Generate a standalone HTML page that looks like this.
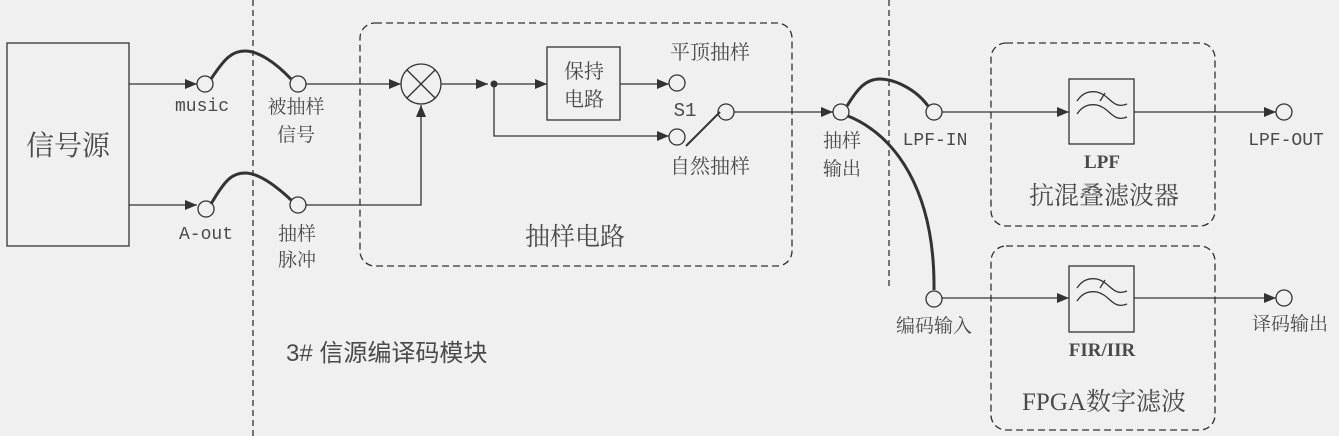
<!DOCTYPE html>
<html><head><meta charset="utf-8"><style>
html,body{margin:0;padding:0;background:#f0f0f0;}
svg{display:block;}
text{fill:#4a4a4a;}
.cjk{font-family:"Liberation Serif","Noto Serif CJK SC",serif;}
.mono{font-family:"Liberation Mono",monospace;}
</style></head><body>
<svg width="1339" height="436" viewBox="0 0 1339 436" xmlns="http://www.w3.org/2000/svg">
<defs>
<marker id="a" markerWidth="12" markerHeight="10" refX="12" refY="5" orient="auto" markerUnits="userSpaceOnUse">
<path d="M0,0 L12,5 L0,10 z" fill="#333"/></marker>
</defs>
<g stroke="#333" fill="none" stroke-width="1.3">
<line x1="253" y1="0" x2="253" y2="436" stroke-dasharray="6,4"/>
<line x1="889" y1="0" x2="889" y2="288" stroke-dasharray="6,4"/>
<rect x="360" y="23" width="432" height="243" rx="15" stroke-dasharray="7,4"/>
<rect x="991" y="43" width="224" height="183" rx="15" stroke-dasharray="7,4"/>
<rect x="991" y="246" width="224" height="184" rx="15" stroke-dasharray="7,4"/>
<rect x="7" y="43" width="122" height="203"/>
<line x1="129" y1="84" x2="197" y2="84" marker-end="url(#a)"/>
<line x1="129" y1="205" x2="197" y2="205" marker-end="url(#a)"/>
<circle cx="205" cy="84" r="8"/>
<circle cx="206" cy="209" r="8"/>
<circle cx="298" cy="84" r="8"/>
<circle cx="298" cy="205" r="8"/>
<path d="M211,79 C225,58 232,51 245,51 C258,51 275,62 291,79" stroke-width="3"/>
<path d="M211,204 C225,180 232,173 245,173 C258,173 275,185 291,200" stroke-width="3"/>
<line x1="306" y1="84" x2="401" y2="84" marker-end="url(#a)"/>
<polyline points="306,205 421,205 421,105" marker-end="url(#a)"/>
<circle cx="421" cy="84" r="20"/>
<line x1="407" y1="70" x2="435" y2="98"/><line x1="435" y1="70" x2="407" y2="98"/>
<line x1="441" y1="84" x2="488" y2="84" marker-end="url(#a)"/>
<line x1="494" y1="84" x2="547" y2="84" marker-end="url(#a)"/>
<rect x="547" y="47" width="73" height="73"/>
<line x1="620" y1="84" x2="669" y2="84" marker-end="url(#a)"/>
<polyline points="494,84 494,136 669,136" marker-end="url(#a)"/>
<circle cx="677" cy="83" r="8"/>
<circle cx="677" cy="137" r="8"/>
<circle cx="726" cy="112" r="8"/>
<line x1="686" y1="146" x2="720" y2="112" stroke-width="2"/>
<line x1="734" y1="112" x2="833" y2="112" marker-end="url(#a)"/>
<circle cx="841" cy="112" r="8"/>
<path d="M847,106 C858,88 866,79 880,79 C893,79 915,88 928,106" stroke-width="3"/>
<path d="M848,116 C895,135 935,190 934,290" stroke-width="3"/>
<circle cx="934" cy="112" r="8"/>
<circle cx="934" cy="299" r="8"/>
<line x1="942" y1="112" x2="1069" y2="112" marker-end="url(#a)"/>
<line x1="942" y1="298" x2="1069" y2="298" marker-end="url(#a)"/>
<rect x="1069" y="79" width="65" height="65"/>
<rect x="1069" y="266" width="65" height="66"/>
<line x1="1134" y1="112" x2="1276" y2="112" marker-end="url(#a)"/>
<line x1="1134" y1="298" x2="1276" y2="298" marker-end="url(#a)"/>
<circle cx="1284" cy="112" r="8"/>
<circle cx="1284" cy="298" r="8"/>
<g id="w">
<path d="M1077,101 C1083,92 1090,91 1097,92 C1110,95 1113,110 1127,104"/>
<path d="M1077,114 C1083,105 1090,104 1097,105 C1110,108 1113,123 1127,117"/>
<line x1="1100" y1="101" x2="1105" y2="93"/>
</g>
<use href="#w" y="187"/>
</g>
<circle cx="494" cy="84" r="3.5" fill="#333"/>
<g class="cjk">
<text x="68" y="155" font-size="28" text-anchor="middle">信号源</text>
<text x="202" y="111" font-size="18" text-anchor="middle" class="mono">music</text>
<text x="206" y="239" font-size="18" text-anchor="middle" class="mono">A-out</text>
<text x="296" y="113" font-size="19" text-anchor="middle">被抽样</text>
<text x="296" y="141" font-size="19" text-anchor="middle">信号</text>
<text x="297" y="240" font-size="19" text-anchor="middle">抽样</text>
<text x="297" y="266" font-size="19" text-anchor="middle">脉冲</text>
<text x="584" y="78" font-size="20" text-anchor="middle">保持</text>
<text x="584" y="106" font-size="20" text-anchor="middle">电路</text>
<text x="710" y="59" font-size="20" text-anchor="middle">平顶抽样</text>
<text x="685" y="116" font-size="19" text-anchor="middle" class="mono">S1</text>
<text x="710" y="173" font-size="20" text-anchor="middle">自然抽样</text>
<text x="575" y="245" font-size="25" text-anchor="middle">抽样电路</text>
<text x="842" y="147" font-size="19" text-anchor="middle">抽样</text>
<text x="842" y="175" font-size="19" text-anchor="middle">输出</text>
<text x="935" y="145" font-size="18" text-anchor="middle" class="mono">LPF-IN</text>
<text x="1286" y="145" font-size="18" text-anchor="middle" class="mono">LPF-OUT</text>
<text x="1102" y="168" font-size="19" font-weight="bold" text-anchor="middle">LPF</text>
<text x="1104" y="204" font-size="25" text-anchor="middle">抗混叠滤波器</text>
<text x="1102" y="356" font-size="19" font-weight="bold" text-anchor="middle">FIR/IIR</text>
<text x="1104" y="410" font-size="25" text-anchor="middle">FPGA数字滤波</text>
<text x="934" y="332" font-size="19" text-anchor="middle">编码输入</text>
<text x="1290" y="330" font-size="19" text-anchor="middle">译码输出</text>
</g>
<text x="286" y="361" font-size="24" style="font-family:'Liberation Sans','Noto Sans CJK SC',sans-serif">3# 信源编译码模块</text>
</svg>
</body></html>
